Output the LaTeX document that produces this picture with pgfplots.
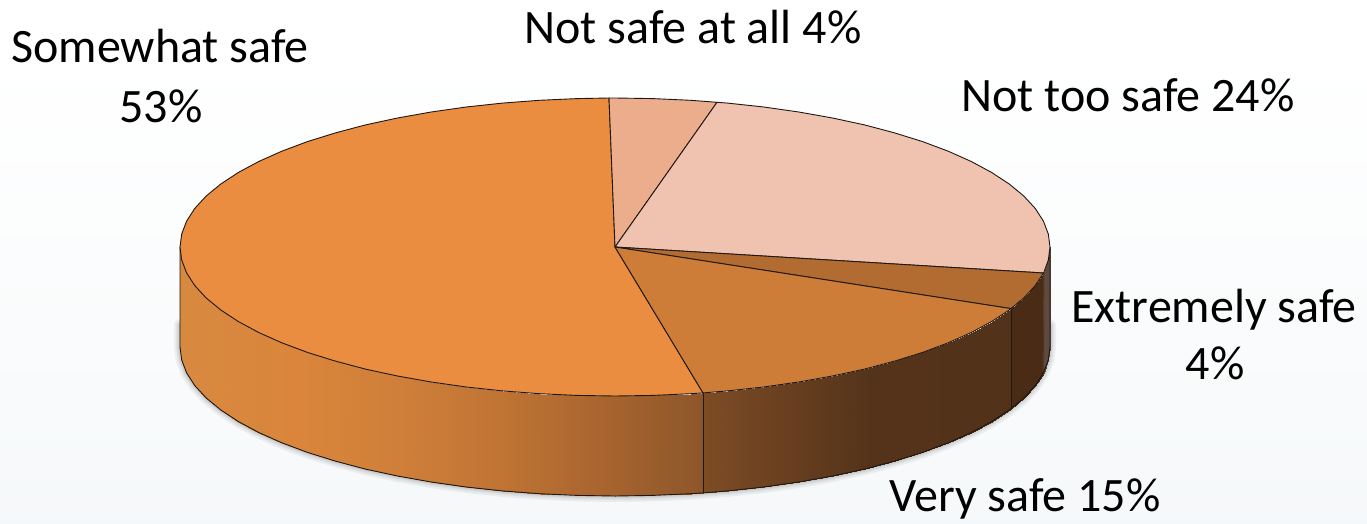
\documentclass[border=0pt]{standalone}
\usepackage{pgfplots}
\usepackage{fontspec}
\setmainfont{Carlito}
\pgfplotsset{compat=1.18}
\definecolor{bgb}{RGB}{239,243,247}
\definecolor{bgm}{RGB}{248,250,251}
\definecolor{somewhat}{RGB}{234,141,64}
\definecolor{notatall}{RGB}{235,173,139}
\definecolor{nottoo}{RGB}{239,195,175}
\definecolor{extremely}{RGB}{178,107,48}
\definecolor{very}{RGB}{206,125,57}
\definecolor{edge}{RGB}{30,24,20}
\pgfdeclareverticalshading{pagebg}{100bp}{color(0bp)=(bgb); color(35bp)=(bgm); color(70bp)=(white); color(100bp)=(white)}
\pgfplotsset{
  colormap={wall}{
    rgb255(180)=(216,137,64) rgb255(300)=(218,133,59) rgb255(400)=(207,127,58)
    rgb255(500)=(192,116,52) rgb255(600)=(169,101,47) rgb255(702)=(141,86,42)
    rgb255(704)=(125,76,36) rgb255(780)=(106,64,32) rgb255(870)=(84,51,26)
    rgb255(1010)=(83,50,26) rgb255(1012)=(74,43,22) rgb255(1042)=(74,43,22)
    rgb255(1044)=(95,74,64) rgb255(1050)=(95,74,64)
  },
  wallpart/.style={surf, shader=interp, point meta=x, point meta min=180, point meta max=1050},
  face/.style={draw=edge, line width=0.9bp, line join=round},
  rim/.style={draw=edge, line width=0.9bp, no marks},
  shadow/.style={draw=black, no marks, opacity=0.05, line join=round, line cap=round},
}
\newcommand{\lbl}{\fontsize{48bp}{48bp}\selectfont}
\begin{document}
\begin{tikzpicture}
\begin{axis}[
  scale only axis, width=1367bp, height=523bp,
  xmin=0, xmax=1367, ymin=0, ymax=523, y dir=reverse,
  hide axis, clip=true,
]
\fill[shading=pagebg] (axis cs:0,523) rectangle (axis cs:1367,0);

% soft shadow under the wall
\pgfplotsinvokeforeach{12,8,5,3}{
  \addplot[shadow, line width=#1 bp] coordinates {
    (180,325)(180,347)(181.7,360)(186.6,372.9)(194.8,385.6)(206.2,398)(220.8,410)(238.3,421.5)(258.7,432.5)(281.8,442.8)(307.4,452.4)(335.4,461.1)(365.5,469.1)(397.5,476)(431.2,482)(466.2,487)(502.4,490.9)(539.5,493.7)(577.1,495.4)(615,496)(652.9,495.4)(690.5,493.7)(727.6,490.9)(763.8,487)(798.8,482)(832.5,476)(864.5,469.1)(894.6,461.1)(922.6,452.4)(948.2,442.8)(971.3,432.5)(991.7,421.5)(1009.2,410)(1023.8,398)(1035.2,385.6)(1043.4,372.9)(1048.3,360)(1050,347)(1050,325)
  };
}

% side wall, one part per slice
\addplot[wallpart, mesh/rows=23] coordinates {
  (180,247)(180,347)
  (181.7,260)(181.7,360)
  (186.6,272.9)(186.6,372.9)
  (194.8,285.6)(194.8,385.6)
  (206.2,298)(206.2,398)
  (220.8,310)(220.8,410)
  (238.3,321.5)(238.3,421.5)
  (258.7,332.5)(258.7,432.5)
  (281.8,342.8)(281.8,442.8)
  (307.4,352.4)(307.4,452.4)
  (335.4,361.1)(335.4,461.1)
  (365.5,369.1)(365.5,469.1)
  (397.5,376)(397.5,476)
  (431.2,382)(431.2,482)
  (466.2,387)(466.2,487)
  (502.4,390.9)(502.4,490.9)
  (539.5,393.7)(539.5,493.7)
  (577.1,395.4)(577.1,495.4)
  (615,396)(615,496)
  (652.9,395.4)(652.9,495.4)
  (690.5,393.7)(690.5,493.7)
  (702,393)(702,493)
  (703,392.9)(703,492.9)
};
\addplot[wallpart, mesh/rows=13] coordinates {
  (703,392.9)(703,492.9)
  (704,392.8)(704,492.8)
  (727.6,390.9)(727.6,490.9)
  (763.8,387)(763.8,487)
  (798.8,382)(798.8,482)
  (832.5,376)(832.5,476)
  (864.5,369.1)(864.5,469.1)
  (894.6,361.1)(894.6,461.1)
  (922.6,352.4)(922.6,452.4)
  (948.2,342.8)(948.2,442.8)
  (971.3,332.5)(971.3,432.5)
  (991.7,321.5)(991.7,421.5)
  (1011,308.6)(1011,408.6)
};
\addplot[wallpart, mesh/rows=5] coordinates {
  (1011,308.6)(1011,408.6)
  (1023.8,298)(1023.8,398)
  (1035.2,285.6)(1035.2,385.6)
  (1042,275.5)(1042,375.5)
  (1043.6,273)(1043.6,373)
};
\addplot[wallpart, mesh/rows=3] coordinates {
  (1043.6,273)(1043.6,373)
  (1048.3,260)(1048.3,360)
  (1050,247)(1050,347)
};

% wall outline and slice joints
\addplot[rim] coordinates {
  (180,247)(180,347)(181.7,360)(186.6,372.9)(194.8,385.6)(206.2,398)(220.8,410)(238.3,421.5)(258.7,432.5)(281.8,442.8)(307.4,452.4)(335.4,461.1)(365.5,469.1)(397.5,476)(431.2,482)(466.2,487)(502.4,490.9)(539.5,493.7)(577.1,495.4)(615,496)(652.9,495.4)(690.5,493.7)(703,492.9)(727.6,490.9)(763.8,487)(798.8,482)(832.5,476)(864.5,469.1)(894.6,461.1)(922.6,452.4)(948.2,442.8)(971.3,432.5)(991.7,421.5)(1009.2,410)(1023.8,398)(1035.2,385.6)(1043.4,372.9)(1048.3,360)(1050,347)(1050,247)
};
\addplot[rim] coordinates {(703,392.9)(703,492.9)};
\addplot[rim] coordinates {(1011,308.6)(1011,408.6)};

% top face
\addplot[face, fill=somewhat] coordinates {
  (615,247)(703,392.9)(690.5,393.7)(652.9,395.4)(615,396)(577.1,395.4)(539.5,393.7)(502.4,390.9)(466.2,387)(431.2,382)(397.5,376)(365.5,369.1)(335.4,361.1)(307.4,352.4)(281.8,342.8)(258.7,332.5)(238.3,321.5)(220.8,310)(206.2,298)(194.8,285.6)(186.6,272.9)(181.7,260)(180,247)(181.7,234)(186.6,221.1)(194.8,208.4)(206.2,196)(220.8,184)(238.3,172.5)(258.7,161.5)(281.8,151.2)(307.4,141.6)(335.4,132.9)(365.5,124.9)(397.5,118)(431.2,112)(466.2,107)(502.4,103.1)(539.5,100.3)(577.1,98.6)(609,98)(615,247)
};
\addplot[face, fill=notatall] coordinates {
  (615,247)(609,98)(615,98)(652.9,98.6)(690.5,100.3)(717,102.3)(615,247)
};
\addplot[face, fill=nottoo] coordinates {
  (615,247)(717,102.3)(727.6,103.1)(763.8,107)(798.8,112)(832.5,118)(864.5,124.9)(894.6,132.9)(922.6,141.6)(948.2,151.2)(971.3,161.5)(991.7,172.5)(1009.2,184)(1023.8,196)(1035.2,208.4)(1043.4,221.1)(1048.3,234)(1050,247)(1048.3,260)(1043.6,273)(615,247)
};
\addplot[face, fill=extremely] coordinates {
  (615,247)(1043.6,273)(1035.2,285.6)(1023.8,298)(1011,308.6)(615,247)
};
\addplot[face, fill=very] coordinates {
  (615,247)(1011,308.6)(1009.2,310)(991.7,321.5)(971.3,332.5)(948.2,342.8)(922.6,352.4)(894.6,361.1)(864.5,369.1)(832.5,376)(798.8,382)(763.8,387)(727.6,390.9)(703,392.9)(615,247)
};

\node[anchor=base, inner sep=0pt] at (axis cs:160,63) {\lbl Somewhat safe};
\node[anchor=base, inner sep=0pt] at (axis cs:161,122) {\lbl 53\%};
\node[anchor=base, inner sep=0pt] at (axis cs:693,44) {\lbl Not safe at all 4\%};
\node[anchor=base, inner sep=0pt] at (axis cs:1128,111) {\lbl Not too safe 24\%};
\node[anchor=base, inner sep=0pt] at (axis cs:1214,322) {\lbl Extremely safe};
\node[anchor=base, inner sep=0pt] at (axis cs:1215,379) {\lbl 4\%};
\node[anchor=base, inner sep=0pt] at (axis cs:1025,511.5) {\lbl Very safe 15\%};
\end{axis}
\end{tikzpicture}
\end{document}
